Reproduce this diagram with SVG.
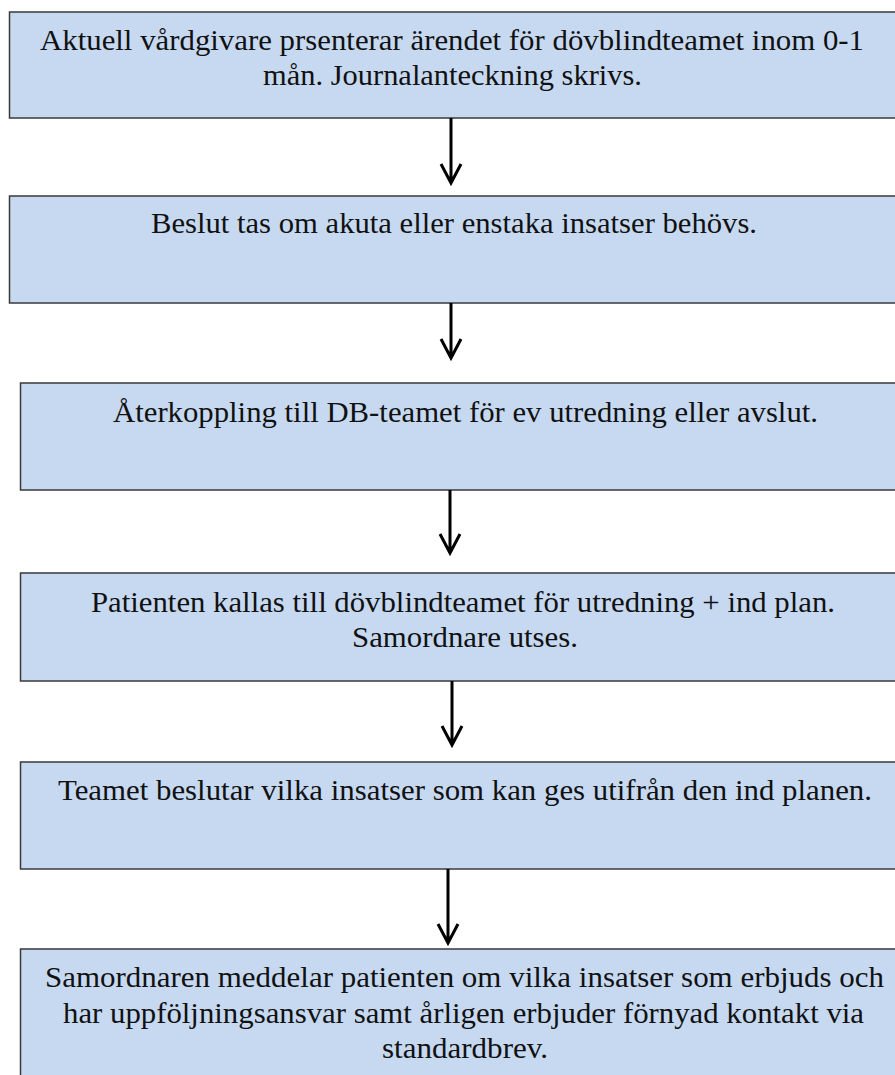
<svg xmlns="http://www.w3.org/2000/svg" width="895" height="1075" viewBox="0 0 895 1075">
<style>
.box{fill:#C6D9F1;stroke:#3a3a3a;stroke-width:1.5}
.t{font-family:"Liberation Serif","Times New Roman",serif;font-size:28.5px;fill:#111;text-anchor:middle}
.c{stroke:#000;stroke-width:3;fill:none}
</style>
<rect width="895" height="1075" fill="#fff"/>
<g id="n1"><rect class="box" x="9.5" y="12" width="900" height="106"/>
<text class="t" x="452" y="50" textLength="824" lengthAdjust="spacingAndGlyphs">Aktuell vårdgivare prsenterar ärendet för dövblindteamet inom 0-1</text>
<text class="t" x="452.5" y="85" textLength="379" lengthAdjust="spacingAndGlyphs">mån. Journalanteckning skrivs.</text></g>
<g id="n2"><rect class="box" x="9.5" y="196" width="900" height="107"/>
<text class="t" x="454" y="233" textLength="606" lengthAdjust="spacingAndGlyphs">Beslut tas om akuta eller enstaka insatser behövs.</text></g>
<g id="n3"><rect class="box" x="20.5" y="383" width="900" height="107"/>
<text class="t" x="465.5" y="422" textLength="705" lengthAdjust="spacingAndGlyphs">Återkoppling till DB-teamet för ev utredning eller avslut.</text></g>
<g id="n4"><rect class="box" x="20.5" y="573" width="900" height="108"/>
<text class="t" x="463" y="612" textLength="744" lengthAdjust="spacingAndGlyphs">Patienten kallas till dövblindteamet för utredning + ind plan.</text>
<text class="t" x="465" y="647" textLength="226" lengthAdjust="spacingAndGlyphs">Samordnare utses.</text></g>
<g id="n5"><rect class="box" x="20.5" y="762" width="900" height="107"/>
<text class="t" x="465" y="800" textLength="814" lengthAdjust="spacingAndGlyphs">Teamet beslutar vilka insatser som kan ges utifrån den ind planen.</text></g>
<g id="n6"><rect class="box" x="20.5" y="949" width="900" height="140"/>
<text class="t" x="464.5" y="987" textLength="839" lengthAdjust="spacingAndGlyphs">Samordnaren meddelar patienten om vilka insatser som erbjuds och</text>
<text class="t" x="463.5" y="1023" textLength="801" lengthAdjust="spacingAndGlyphs">har uppföljningsansvar samt årligen erbjuder förnyad kontakt via</text>
<text class="t" x="465" y="1058" textLength="166" lengthAdjust="spacingAndGlyphs">standardbrev.</text></g>
<g id="connectors" class="c">
<path d="M451 118V183M441 164L451 183L461 164"/>
<path d="M451 303V358M441 339L451 358L461 339"/>
<path d="M450 490V553M440 534L450 553L460 534"/>
<path d="M452 681V745M442 726L452 745L462 726"/>
<path d="M448 869V943M438 924L448 943L458 924"/>
</g>
</svg>
